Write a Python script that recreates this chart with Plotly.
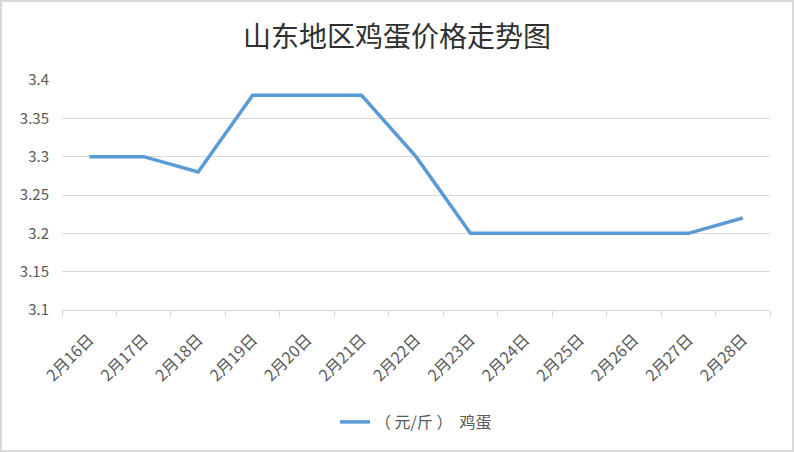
import plotly.graph_objects as go

dates = ["2月16日", "2月17日", "2月18日", "2月19日", "2月20日", "2月21日", "2月22日",
         "2月23日", "2月24日", "2月25日", "2月26日", "2月27日", "2月28日"]
egg_prices = [3.30, 3.30, 3.28, 3.38, 3.38, 3.38, 3.30, 3.20, 3.20, 3.20, 3.20, 3.20, 3.22]
y_ticks = [3.1, 3.15, 3.2, 3.25, 3.3, 3.35, 3.4]
y_tick_text = ["3.1", "3.15", "3.2", "3.25", "3.3", "3.35", "3.4"]

W, H = 794, 452
L, R, T, B = 62, 24, 80, 142
PW, PH = W - L - R, H - T - B

fig = go.Figure()
fig.add_trace(go.Scatter(
    x=dates, y=egg_prices, mode="lines", name="（ 元/斤 ）  鸡蛋",
    line=dict(color="#5B9BD5", width=3.5),
))

fig.update_layout(
    width=W, height=H,
    margin=dict(l=L, r=R, t=T, b=B),
    paper_bgcolor="white", plot_bgcolor="white",
    title=dict(text="山东地区鸡蛋价格走势图", x=0.5, xanchor="center", y=1 - 37 / H, yanchor="middle",
               font=dict(family="Noto Sans CJK SC", size=28, color="#303030")),
    font=dict(family="Noto Sans CJK SC", color="#595959"),
    showlegend=True,
    legend=dict(orientation="h", x=0.5, xanchor="center", y=-(422 - 310) / PH, yanchor="middle",
                font=dict(size=16, color="#595959")),
    xaxis=dict(type="category", range=[-0.5, 12.5], tickangle=-45, tickson="boundaries",
               ticks="outside", ticklen=6, tickcolor="#d9d9d9", showline=True, linecolor="#d9d9d9",
               linewidth=1, showgrid=False, tickfont=dict(size=16, color="#595959"),
               ticklabelstandoff=13),
    yaxis=dict(range=[3.1, 3.4], tickvals=y_ticks, ticktext=y_tick_text, showgrid=True,
               gridcolor="#d9d9d9", gridwidth=1, zeroline=False, showline=False, ticks="",
               tickfont=dict(size=15, color="#595959"), ticklabelstandoff=12),
    shapes=[dict(type="rect", xref="paper", yref="paper", x0=-(L - 1) / PW, x1=1 + (R - 1) / PW,
                 y0=-(B - 1) / PH, y1=1 + (T - 1) / PH, line=dict(color="#d9d9d9", width=2))],
)

fig.write_html("out.html", config={"displayModeBar": False},
               post_script="document.body.style.margin='0';document.body.style.overflow='hidden';")
